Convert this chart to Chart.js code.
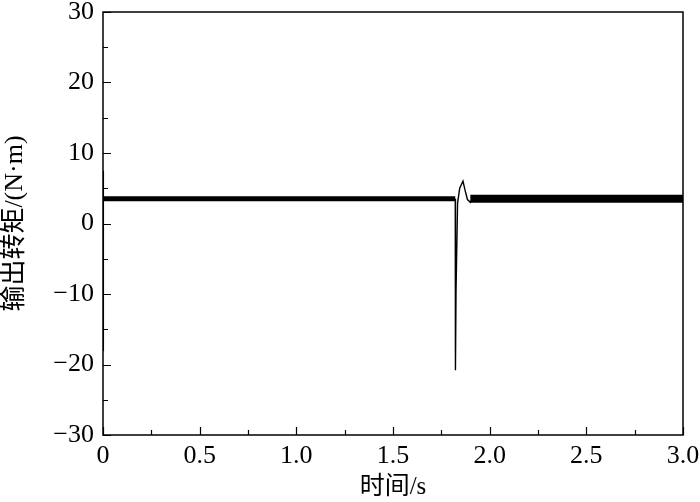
<!DOCTYPE html>
<html>
<head>
<meta charset="utf-8">
<script src="https://cdn.jsdelivr.net/npm/chart.js@4/dist/chart.umd.min.js"></script>
<style>
    html, body { margin: 0; padding: 0; background: #fff; }
    #wrap { width: 700px; height: 502px; }
</style>
</head>
<body>
<div id="wrap"><canvas id="torqueChart" width="700" height="502"></canvas></div>
<script>
// ---- DATA ----
// start-up transient at t = 0 (mostly hidden behind the left axis)
const startTime   = [0, 0.001, 0.002, 0.004];
const startTorque = [-18, 7.5, 2.0, 3.5];
// steady output before the disturbance
const steadyTime   = [0.004, 1.822];
const steadyTorque = [3.5, 3.5];
// disturbance around 1.82 s
const faultTime   = [1.822, 1.823, 1.826, 1.834, 1.845, 1.862, 1.872, 1.885, 1.900, 1.910];
const faultTorque = [3.5, -20.8, -9.5, 2.9, 5.0, 6.0, 4.8, 3.4, 3.0, 3.5];
// steady output after recovery (wider ripple band)
const recoverTime   = [1.900, 3.0];
const recoverTorque = [3.5, 3.5];

const xTicks = [0, 0.5, 1.0, 1.5, 2.0, 2.5, 3.0];
const yTicks = [-30, -20, -10, 0, 10, 20, 30];

const FONT = "'Liberation Serif', 'Noto Sans CJK SC', serif";

function pts(xs, ys) {
    return xs.map((x, i) => ({ x: x, y: ys[i] }));
}

function lineSet(xs, ys, width) {
    return {
        data: pts(xs, ys),
        borderColor: '#000',
        borderWidth: width,
        pointRadius: 0,
        tension: 0,
        fill: false
    };
}

// inward ticks (major + minor) and the full frame box
const frameTicks = {
    id: 'frameTicks',
    afterDraw(chart) {
        const { ctx, chartArea: a, scales } = chart;
        const xs = scales.x, ys = scales.y;
        ctx.save();
        ctx.strokeStyle = '#000';
        ctx.lineWidth = 1.5;
        ctx.strokeRect(a.left, a.top, a.right - a.left, a.bottom - a.top);
        ctx.lineWidth = 1.2;
        ctx.beginPath();
        for (let v = 0; v <= 3.0001; v += 0.25) {
            const px = Math.round(xs.getPixelForValue(v)) + 0.5;
            const len = Math.abs(v * 2 - Math.round(v * 2)) < 1e-6 ? 8 : 5;
            ctx.moveTo(px, a.bottom);
            ctx.lineTo(px, a.bottom - len);
        }
        for (let v = -30; v <= 30; v += 5) {
            const py = Math.round(ys.getPixelForValue(v)) + 0.5;
            const len = v % 10 === 0 ? 8 : 5;
            ctx.moveTo(a.left, py);
            ctx.lineTo(a.left + len, py);
        }
        ctx.stroke();
        ctx.restore();
    }
};

new Chart(document.getElementById('torqueChart'), {
    type: 'line',
    data: {
        datasets: [
            lineSet(startTime, startTorque, 1.2),
            lineSet(steadyTime, steadyTorque, 5),
            lineSet(faultTime, faultTorque, 1.4),
            lineSet(recoverTime, recoverTorque, 8)
        ]
    },
    options: {
        responsive: false,
        animation: false,
        layout: { padding: { top: 12, right: 17, bottom: 0, left: 0 } },
        plugins: { legend: { display: false }, tooltip: { enabled: false } },
        scales: {
            x: {
                type: 'linear',
                min: 0,
                max: 3,
                afterBuildTicks: s => { s.ticks = xTicks.map(v => ({ value: v })); },
                afterFit: s => { s.height = 67; s.paddingLeft = 0; s.paddingRight = 0; },
                grid: { display: false, drawTicks: false },
                border: { display: false },
                ticks: {
                    color: '#000',
                    padding: 6,
                    maxRotation: 0,
                    font: { family: FONT, size: 26 },
                    callback: v => v === 0 ? '0' : v.toFixed(1)
                },
                title: {
                    display: true,
                    text: '时间/s',
                    color: '#000',
                    padding: { top: 0, bottom: 0 },
                    font: { family: FONT, size: 25 }
                }
            },
            y: {
                min: -30,
                max: 30,
                afterBuildTicks: s => { s.ticks = yTicks.map(v => ({ value: v })); },
                afterFit: s => { s.width = 103; s.paddingTop = 0; s.paddingBottom = 0; },
                grid: { display: false, drawTicks: false },
                border: { display: false },
                ticks: {
                    color: '#000',
                    padding: 9,
                    font: { family: FONT, size: 26 },
                    callback: v => v < 0 ? '\u2212' + Math.abs(v) : String(v)
                },
                title: {
                    display: true,
                    text: '输出转矩/(N·m)',
                    color: '#000',
                    padding: { top: 0, bottom: 0 },
                    font: { family: FONT, size: 26 }
                }
            }
        }
    },
    plugins: [frameTicks]
});
</script>
</body>
</html>
